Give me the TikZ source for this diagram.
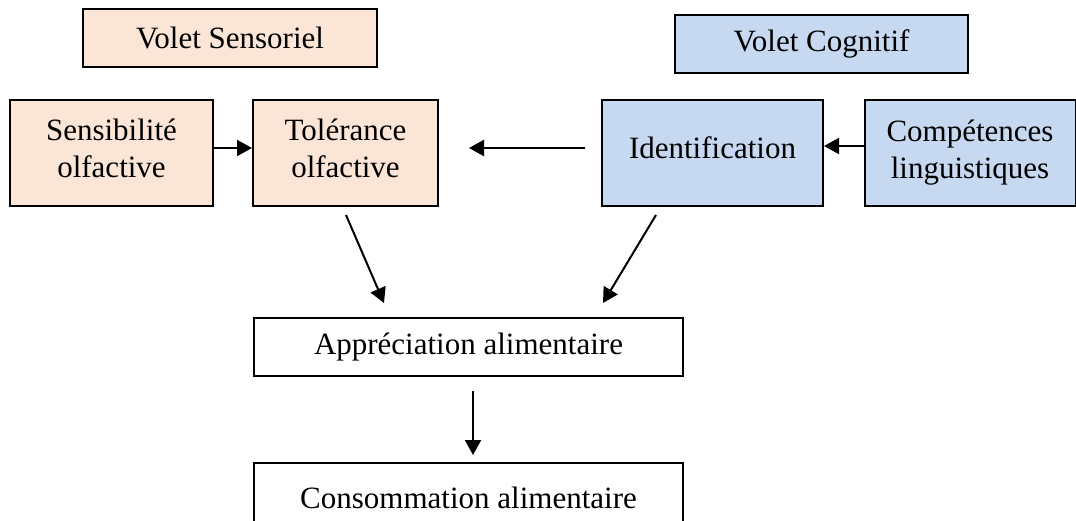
\documentclass[tikz,border=0pt]{standalone}
\usepackage{fontspec}
\setmainfont{Liberation Serif}
\usetikzlibrary{arrows.meta}
\definecolor{peach}{HTML}{FBE5D6}
\definecolor{paleblue}{HTML}{C6D9F1}
\newcommand{\padbelow}[1]{\rule[-#1]{0pt}{0pt}}

\begin{document}
\begin{tikzpicture}[x=1pt, y=-1pt,
    box/.style={draw=black, line width=2pt, align=center, inner sep=0pt, font=\fontsize{31}{37}\selectfont},
    sensory/.style={box, fill=peach},
    cognitive/.style={box, fill=paleblue},
    arr/.style={line width=2pt, -{Triangle[length=15pt,width=16pt]}}]
    \useasboundingbox (0,0) rectangle (1076,520);
    % volets
    \node[sensory, minimum width=294pt, minimum height=58pt] (volsens) at (230,38) {Volet Sensoriel};
    \node[cognitive, minimum width=293pt, minimum height=58pt] (volcogn) at (821.5,44) {Volet Cognitif};
    % middle row
    \node[sensory, minimum width=203pt, minimum height=106pt] (sensib) at (111.5,152.5) {Sensibilit\'e\\olfactive\padbelow{8pt}};
    \node[sensory, minimum width=185pt, minimum height=106pt] (toler) at (345.5,152.5) {Tol\'erance\\olfactive\padbelow{8pt}};
    \node[cognitive, minimum width=221pt, minimum height=106pt] (ident) at (712.5,153) {Identification\padbelow{11pt}};
    \node[cognitive, minimum width=211pt, minimum height=106pt] (compet) at (970,153) {Comp\'etences\\linguistiques};
    % bottom
    \node[box, minimum width=429pt, minimum height=58pt] (apprec) at (468.5,347) {Appr\'eciation alimentaire};
    \node[box, minimum width=429pt, minimum height=69pt] (consom) at (468.5,497.5) {Consommation alimentaire};
    % free arrow ends
    \coordinate (linkR) at (585,148);
    \coordinate (linkL) at (469,148);
    \coordinate (tolOut) at (346,215);
    \coordinate (tolIn) at (384,303);
    \coordinate (idOut) at (656,215);
    \coordinate (idIn) at (603,303);
    \coordinate (appOut) at (473,391);
    \coordinate (conIn) at (473,455);
    % arrows
    \draw[arr] ([yshift=4.5pt]sensib.east) -- ([yshift=4.5pt]toler.west);
    \draw[arr] (linkR) -- (linkL);
    \draw[arr] ([yshift=7pt]compet.west) -- ([yshift=7pt]ident.east);
    \draw[arr] (tolOut) -- (tolIn);
    \draw[arr] (idOut) -- (idIn);
    \draw[arr] (appOut) -- (conIn);
\end{tikzpicture}
\end{document}
